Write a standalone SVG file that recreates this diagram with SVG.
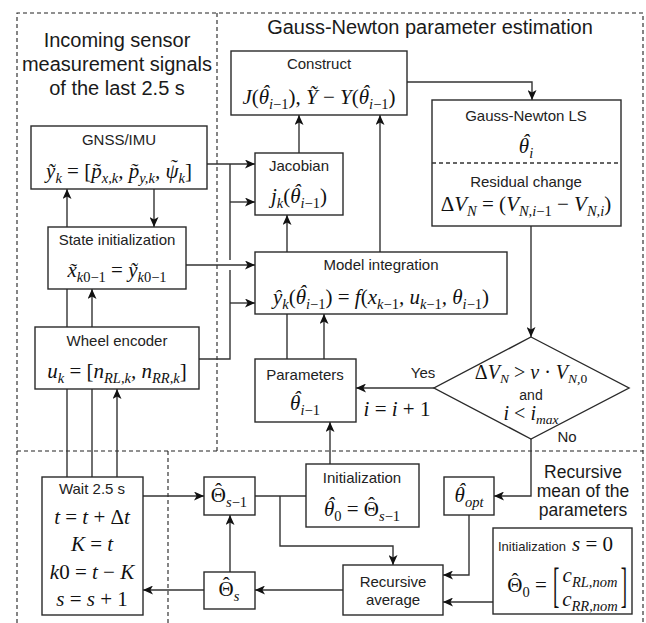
<svg xmlns="http://www.w3.org/2000/svg" width="646" height="623" viewBox="0 0 646 623">
  <defs>
    <marker id="ah" viewBox="0 0 10 9" refX="10" refY="4.5" markerWidth="10" markerHeight="9" markerUnits="userSpaceOnUse" orient="auto">
      <path d="M0,0 L10,4.5 L0,9 L2.6,4.5 Z" fill="#111"/>
    </marker>
    <style>
      .region { fill: none; stroke: #222; stroke-width: 1.1; stroke-dasharray: 4 3; }
      .box { fill: #fff; stroke: #2a2a2a; stroke-width: 1.4; }
      .ln { fill: none; stroke: #333; stroke-width: 1.4; }
      .arr { marker-end: url(#ah); }
      .lbl { font-family: "Liberation Sans", Arial, sans-serif; font-size: 15px; fill: #222; text-anchor: middle; }
      .ttl { font-family: "Liberation Sans", Arial, sans-serif; font-size: 20px; fill: #1a1a1a; text-anchor: middle; }
      .m { font-family: "Liberation Serif", "Times New Roman", serif; font-style: italic; font-size: 21px; fill: #111; text-anchor: middle; }
      .r { font-style: normal; }
      .s { font-size: 14.5px; }
    </style>
  </defs>

  <!-- dashed region frames -->
  <g id="regions">
    <path class="region" d="M17,623 V13 H643 V623"/>
    <path class="region" d="M217,13 V451" stroke-dasharray="3 3"/>
    <path class="region" d="M17,451 H643"/>
    <path class="region" d="M168,451 V623"/>
  </g>

  <!-- region titles -->
  <g id="titles">
    <text class="ttl" x="430" y="34">Gauss-Newton parameter estimation</text>
    <text class="ttl" x="117" y="47">Incoming sensor</text>
    <text class="ttl" x="117" y="71">measurement signals</text>
    <text class="ttl" x="117" y="95">of the last 2.5 s</text>
    <text class="ttl" x="583" y="478" style="font-size:17.5px">Recursive</text>
    <text class="ttl" x="583" y="497" style="font-size:17.5px">mean of the</text>
    <text class="ttl" x="583" y="516" style="font-size:17.5px">parameters</text>
  </g>

  <!-- connectors -->
  <g id="connectors">
    <path class="ln arr" d="M67,477 V189"/>
    <path class="ln arr" d="M92,477 V289"/>
    <path class="ln arr" d="M117,477 V389"/>
    <path class="ln arr" d="M154,189 V227"/>
    <path class="ln arr" d="M207,164 H255"/>
    <path class="ln" d="M230,164 V260 M230,270 V359 H199"/>
    <path class="ln arr" d="M230,202 H255"/>
    <path class="ln arr" d="M230,303 H255"/>
    <path class="ln arr" d="M186,265 H255"/>
    <path class="ln arr" d="M299,153 V115"/>
    <path class="ln arr" d="M380,252 V115"/>
    <path class="ln arr" d="M407,82 H532 V100"/>
    <path class="ln arr" d="M287,359 V215"/>
    <path class="ln arr" d="M324,359 V314"/>
    <path class="ln arr" d="M531,226 V337"/>
    <path class="ln arr" d="M434,388 H356"/>
    <path class="ln arr" d="M531,439 V496 H494"/>
    <path class="ln arr" d="M330,464 V422"/>
    <path class="ln arr" d="M143,496 H204"/>
    <path class="ln" d="M255,496 H306"/>
    <path class="ln arr" d="M280,496 V546 H393 V565"/>
    <path class="ln arr" d="M230,572 V515"/>
    <path class="ln arr" d="M204,590 H143"/>
    <path class="ln arr" d="M343,590 H255"/>
    <path class="ln arr" d="M469,515 V575 H443"/>
    <path class="ln arr" d="M493,602 H443"/>
    <text class="lbl" x="423" y="378">Yes</text>
    <text class="m" x="397" y="416">i<tspan class="r"> = </tspan>i<tspan class="r"> + 1</tspan></text>
    <text class="lbl" x="567" y="442">No</text>
  </g>

  <!-- nodes -->
  <g id="gnss">
    <rect class="box" x="31" y="126" width="176" height="63"/>
    <text class="lbl" x="119" y="145">GNSS/IMU</text>
    <text class="m" x="119" y="178">ỹ<tspan class="s" dy="4.5">k</tspan><tspan class="r" dy="-4.5"> = [</tspan>p&#x303;<tspan class="s" dy="4.5">x,k</tspan><tspan dy="-4.5">, </tspan>p&#x303;<tspan class="s" dy="4.5">y,k</tspan><tspan dy="-4.5">, </tspan>ψ<tspan dx="-9" dy="-4.5">˜</tspan><tspan class="s" dx="2" dy="9">k</tspan><tspan class="r" dy="-4.5">]</tspan></text>
  </g>

  <g id="state-init">
    <rect class="box" x="48" y="227" width="138" height="62"/>
    <text class="lbl" x="117" y="245">State initialization</text>
    <text class="m" x="117" y="277">x&#x303;<tspan class="s" dy="4.5">k<tspan class="r">0−1</tspan></tspan><tspan class="r" dy="-4.5"> = </tspan>ỹ<tspan class="s" dy="4.5">k<tspan class="r">0−1</tspan></tspan></text>
  </g>

  <g id="wheel-encoder">
    <rect class="box" x="35" y="327" width="164" height="62"/>
    <text class="lbl" x="117" y="346">Wheel encoder</text>
    <text class="m" x="117" y="378">u<tspan class="s" dy="4.5">k</tspan><tspan class="r" dy="-4.5"> = [</tspan>n<tspan class="s" dy="4.5">RL,k</tspan><tspan dy="-4.5">, </tspan>n<tspan class="s" dy="4.5">RR,k</tspan><tspan class="r" dy="-4.5">]</tspan></text>
  </g>

  <g id="construct">
    <rect class="box" x="231" y="51" width="176" height="64"/>
    <text class="lbl" x="319" y="69">Construct</text>
    <text class="m" x="319" y="104">J<tspan class="r">(</tspan>θ<tspan dx="-7" dy="-4">ˆ</tspan><tspan class="s" dy="8.5">i<tspan class="r">−1</tspan></tspan><tspan class="r" dy="-4.5">), </tspan>Y&#x303;<tspan class="r"> − </tspan>Y<tspan class="r">(</tspan>θ<tspan dx="-7" dy="-4">ˆ</tspan><tspan class="s" dy="8.5">i<tspan class="r">−1</tspan></tspan><tspan class="r" dy="-4.5">)</tspan></text>
  </g>

  <g id="jacobian">
    <rect class="box" x="255" y="153" width="88" height="62"/>
    <text class="lbl" x="299" y="171">Jacobian</text>
    <text class="m" x="299" y="203">j<tspan class="s" dy="4.5">k</tspan><tspan class="r" dy="-4.5">(</tspan>θ<tspan dx="-7" dy="-4">ˆ</tspan><tspan class="s" dy="8.5">i<tspan class="r">−1</tspan></tspan><tspan class="r" dy="-4.5">)</tspan></text>
  </g>

  <g id="model-integration">
    <rect class="box" x="255" y="252" width="252" height="62"/>
    <text class="lbl" x="381" y="270">Model integration</text>
    <text class="m" x="381" y="304">ŷ<tspan class="s" dy="4.5">k</tspan><tspan class="r" dy="-4.5">(</tspan>θ<tspan dx="-7" dy="-4">ˆ</tspan><tspan class="s" dy="8.5">i<tspan class="r">−1</tspan></tspan><tspan class="r" dy="-4.5">) = </tspan>f<tspan class="r">(</tspan>x<tspan class="s" dy="4.5">k<tspan class="r">−1</tspan></tspan><tspan dy="-4.5">, </tspan>u<tspan class="s" dy="4.5">k<tspan class="r">−1</tspan></tspan><tspan dy="-4.5">, </tspan>θ<tspan class="s" dy="4.5">i<tspan class="r">−1</tspan></tspan><tspan class="r" dy="-4.5">)</tspan></text>
  </g>

  <g id="parameters">
    <rect class="box" x="255" y="359" width="101" height="63"/>
    <text class="lbl" x="305" y="380">Parameters</text>
    <text class="m" x="305" y="410">θ<tspan dx="-7" dy="-4">ˆ</tspan><tspan class="s" dy="8.5">i<tspan class="r">−1</tspan></tspan></text>
  </g>

  <g id="gauss-newton-ls">
    <rect class="box" x="432" y="100" width="189" height="126"/>
    <path class="ln" d="M432,163 H621" stroke-dasharray="4 3" stroke-width="1.1"/>
    <text class="lbl" x="526" y="121">Gauss-Newton LS</text>
    <text class="m" x="526" y="153">θ<tspan dx="-7" dy="-4">ˆ</tspan><tspan class="s" dy="8.5">i</tspan></text>
    <text class="lbl" x="526" y="187">Residual change</text>
    <text class="m" x="526" y="211"><tspan class="r">Δ</tspan>V<tspan class="s" dy="4.5">N</tspan><tspan class="r" dy="-4.5"> = (</tspan>V<tspan class="s" dy="4.5">N,i<tspan class="r">−1</tspan></tspan><tspan class="r" dy="-4.5"> − </tspan>V<tspan class="s" dy="4.5">N,i</tspan><tspan class="r" dy="-4.5">)</tspan></text>
  </g>

  <g id="decision">
    <polygon class="box" points="531,337 629,388 531,439 434,388"/>
    <text class="m" x="531" y="379" style="font-size:20px"><tspan class="r">Δ</tspan>V<tspan class="s" dy="4" style="font-size:13.5px">N</tspan><tspan class="r" dy="-4"> &gt; </tspan>ν<tspan class="r"> · </tspan>V<tspan class="s" dy="4" style="font-size:13.5px">N,<tspan class="r">0</tspan></tspan></text>
    <text class="lbl" x="531" y="400" style="font-size:14px">and</text>
    <text class="m" x="531" y="420" style="font-size:20px">i<tspan class="r"> &lt; </tspan>i<tspan class="s" dy="4" style="font-size:13.5px">max</tspan></text>
  </g>

  <g id="wait">
    <rect class="box" x="42" y="477" width="101" height="138"/>
    <text class="lbl" x="92" y="494">Wait 2.5 s</text>
    <text class="m" x="92" y="524">t<tspan class="r"> = </tspan>t<tspan class="r"> + Δ</tspan>t</text>
    <text class="m" x="92" y="551">K<tspan class="r"> = </tspan>t</text>
    <text class="m" x="92" y="579">k<tspan class="r">0 = </tspan>t<tspan class="r"> − </tspan>K</text>
    <text class="m" x="92" y="606">s<tspan class="r"> = </tspan>s<tspan class="r"> + 1</tspan></text>
  </g>

  <g id="theta-prev">
    <rect class="box" x="204" y="477" width="51" height="38"/>
    <text class="m" x="229" y="502"><tspan class="r">Θ</tspan><tspan class="r" dx="-11" dy="-4.5">ˆ</tspan><tspan class="s" dx="4" dy="9">s<tspan class="r">−1</tspan></tspan></text>
  </g>

  <g id="theta-current">
    <rect class="box" x="204" y="572" width="51" height="37"/>
    <text class="m" x="229" y="596"><tspan class="r">Θ</tspan><tspan class="r" dx="-11" dy="-4.5">ˆ</tspan><tspan class="s" dx="4" dy="9">s</tspan></text>
  </g>

  <g id="initialization">
    <rect class="box" x="306" y="464" width="113" height="63"/>
    <text class="lbl" x="362" y="483">Initialization</text>
    <text class="m" x="362" y="516">θ<tspan dx="-7" dy="-4">ˆ</tspan><tspan class="s r" dy="8.5">0</tspan><tspan class="r" dy="-4.5"> = Θ</tspan><tspan class="r" dx="-11" dy="-4.5">ˆ</tspan><tspan class="s" dx="4" dy="9">s<tspan class="r">−1</tspan></tspan></text>
  </g>

  <g id="recursive-average">
    <rect class="box" x="343" y="565" width="100" height="50"/>
    <text class="lbl" x="393" y="587">Recursive</text>
    <text class="lbl" x="393" y="605">average</text>
  </g>

  <g id="theta-opt">
    <rect class="box" x="444" y="477" width="50" height="38"/>
    <text class="m" x="469" y="502">θ<tspan dx="-7" dy="-4">ˆ</tspan><tspan class="s" dy="8.5">opt</tspan></text>
  </g>

  <g id="initialization-zero">
    <rect class="box" x="493" y="528" width="139" height="86"/>
    <text class="lbl" x="498" y="551" style="text-anchor:start;font-size:13px">Initialization<tspan class="m" style="text-anchor:start" dx="6">s</tspan><tspan class="m r"> = 0</tspan></text>
    <text class="m" x="527" y="592"><tspan class="r">Θ</tspan><tspan class="r" dx="-11" dy="-4.5">ˆ</tspan><tspan class="s r" dx="4" dy="9">0</tspan><tspan class="r" dy="-4.5"> =</tspan></text>
    <text class="m r" transform="translate(553,601) scale(1,2.6)" style="text-anchor:start;font-size:19px">[</text>
    <text class="m r" transform="translate(627,601) scale(1,2.6)" style="text-anchor:end;font-size:19px">]</text>
    <text class="m" x="590" y="582">c<tspan class="s" dy="4.5">RL,nom</tspan></text>
    <text class="m" x="590" y="606">c<tspan class="s" dy="4.5">RR,nom</tspan></text>
  </g>
</svg>
